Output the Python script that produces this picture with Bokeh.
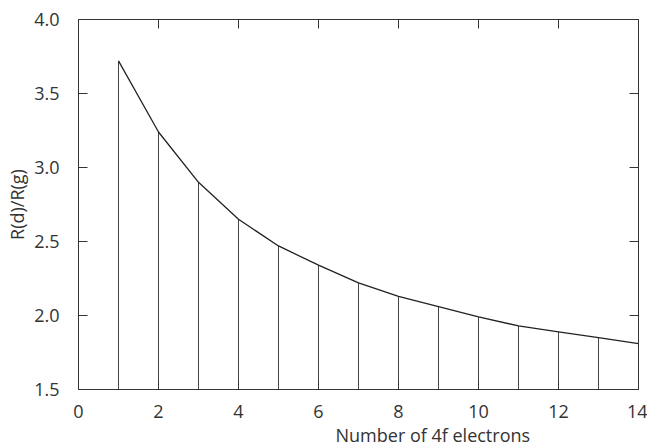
from bokeh.plotting import figure
from bokeh.models import (Range1d, LinearAxis, SingleIntervalTicker, NumeralTickFormatter,
                          CustomJSTickFormatter, Title)
from bokeh.embed import file_html
from bokeh.resources import INLINE

# data
n_electrons = [1, 2, 3, 4, 5, 6, 7, 8, 9, 10, 11, 12, 13, 14]
ratio = [3.72, 3.24, 2.90, 2.65, 2.47, 2.34, 2.22, 2.13, 2.06, 1.99, 1.93, 1.89, 1.85, 1.81]
x_label = "Number of 4f electrons"
y_label = "R(d)/R(g)"

FONT = "Open Sans"
FS = "18px"
AX = "#333333"

x_start, x_end = 0, 14
y_start, y_end = 1.5, 4.0

p = figure(width=647, height=446, output_backend="svg", toolbar_location=None,
           x_range=Range1d(x_start, x_end), y_range=Range1d(y_start, y_end),
           min_border_left=78, min_border_right=9, min_border_top=19, min_border_bottom=56)
p.outline_line_color = None
p.xgrid.visible = False
p.ygrid.visible = False
p.background_fill_color = "white"
p.border_fill_color = "white"

# impulses
p.segment(x0=n_electrons, y0=[y_start] * len(n_electrons), x1=n_electrons, y1=ratio,
          line_color="#444444", line_width=1)
# curve
p.line(n_electrons, ratio, line_color="#222222", line_width=1.3)

def style(ax):
    ax.axis_line_color = AX
    ax.axis_line_width = 1
    ax.major_tick_line_color = AX
    ax.major_tick_in = 9
    ax.major_tick_out = 0
    ax.minor_tick_line_color = None
    ax.major_label_text_font = FONT
    ax.major_label_text_color = "#333333"
    ax.major_label_text_font_size = FS

xa = p.xaxis[0]
xa.ticker = SingleIntervalTicker(interval=2)
style(xa)
xa.major_label_standoff = 11

ya = p.yaxis[0]
ya.ticker = SingleIntervalTicker(interval=0.5)
ya.formatter = NumeralTickFormatter(format="0.0")
style(ya)
ya.major_label_standoff = 15
ya.axis_label = y_label
ya.axis_label_text_font = FONT
ya.axis_label_text_font_size = FS
ya.axis_label_text_font_style = "normal"
ya.axis_label_text_color = "#333333"
ya.axis_label_standoff = 2

blank = CustomJSTickFormatter(code="return ''")
top = LinearAxis(ticker=SingleIntervalTicker(interval=2), formatter=blank)
style(top)
top.major_label_standoff = 0
p.add_layout(top, "above")
right = LinearAxis(ticker=SingleIntervalTicker(interval=0.5), formatter=blank)
style(right)
right.major_label_standoff = 0
p.add_layout(right, "right")

xt = Title(text=x_label, align="left", offset=257, standoff=0,
           text_font=FONT, text_font_size=FS, text_font_style="normal", text_color="#333333")
p.add_layout(xt, "below")

open("out.html", "w").write(file_html(p, INLINE))
